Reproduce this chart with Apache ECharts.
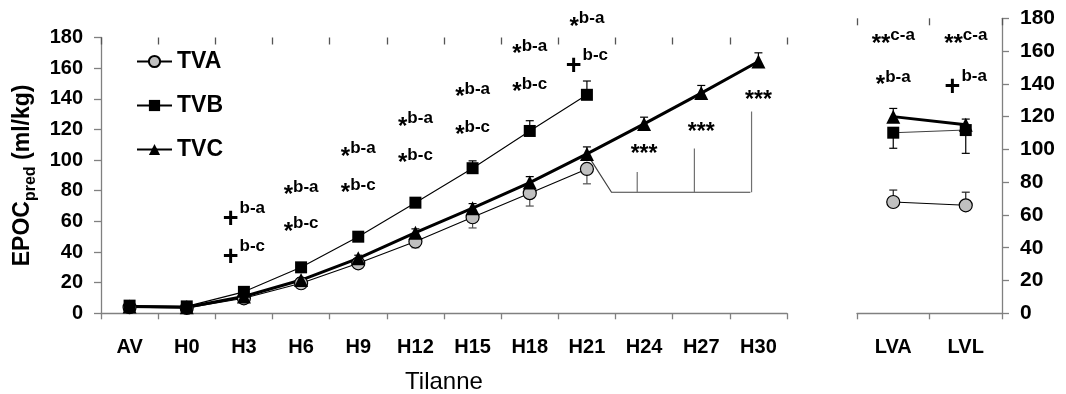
<!DOCTYPE html>
<html>
<head>
<meta charset="utf-8">
<script src="https://cdn.jsdelivr.net/npm/echarts@6/dist/echarts.min.js"></script>
<style>
  html, body { margin: 0; padding: 0; background: #fff; }
  #chart { width: 1066px; height: 394px; }
</style>
</head>
<body>
<div id="chart"></div>
<script>
// Categories
const timePoints = ['AV', 'H0', 'H3', 'H6', 'H9', 'H12', 'H15', 'H18', 'H21', 'H24', 'H27', 'H30'];
const restPoints = ['LVA', 'LVL'];

// EPOC_pred over time (ml/kg)
const tvaTime = [4, 3.5, 9.8, 19.6, 32.6, 46.8, 62.7, 78.4, 94.2, null, null, null];
const tvbTime = [5, 4.5, 14, 30, 50, 72.2, 94.7, 119, 142.6, null, null, null];
const tvcTime = [4.5, 4, 11, 21.7, 35.9, 52.6, 68.6, 85.3, 104, 123.6, 143.7, 164.3];
// SD (TVA drawn downward, TVB / TVC upward)
const tvaTimeSd = [1, 1, 1.5, 2, 3, 4, 7, 8.4, 9.7];
const tvbTimeSd = [1, 1, 1.5, 2, 2.5, 3, 4.8, 6.7, 9];
const tvcTimeSd = [1, 1, 1, 1.5, 2, 2.5, 3, 3.9, 4.6, 4.4, 5, 5.7];

// Running conditions LVA / LVL
const tvaRest = [67.9, 65.9];
const tvbRest = [110.2, 111.8];
const tvcRest = [120, 115];
const tvaRestSd = [7.3, 8];
const tvbRestSd = [9.5, 14.2];
const tvcRestSd = [5, 3.5];

// Axis ticks
const yMin = 0, yMax = 180, yStep = 20;

// Significance labels
const timeNoteCats = ['H3', 'H3', 'H6', 'H6', 'H9', 'H9', 'H12', 'H12', 'H15', 'H15', 'H18', 'H18', 'H21', 'H21', 'H24', 'H27', 'H30'];
const timeNoteVals = [69.4, 44.6, 83.8, 59.8, 108.8, 84.9, 128.4, 104.5, 147.6, 123, 175.7, 150.9, 193.7, 169.2, 106.2, 120.4, 141.5];
const timeNoteText = [
  '{plus|+}{sup|b-a}', '{plus|+}{sup|b-c}',
  '{ast|*}{sup|b-a}', '{ast|*}{sup|b-c}',
  '{ast|*}{sup|b-a}', '{ast|*}{sup|b-c}',
  '{ast|*}{sup|b-a}', '{ast|*}{sup|b-c}',
  '{ast|*}{sup|b-a}', '{ast|*}{sup|b-c}',
  '{ast|*}{sup|b-a}', '{ast|*}{sup|b-c}',
  '{ast|*}{sup|b-a}', '{plus|+}{sup|b-c}',
  '{star|***}', '{star|***}', '{star|***}'
];
const restNoteCats = ['LVA', 'LVA', 'LVL', 'LVL'];
const restNoteVals = [170.8, 145.4, 170.8, 145.4];
const restNoteText = ['{ast|**}{sup|c-a}', '{ast|*}{sup|b-a}', '{ast|**}{sup|c-a}', '{plus|+}{sup|b-a}'];

// Bracket joining TVC H21 to H24..H30
const bracketStart = { cat: 'H21', value: 100.6 };
const bracketBase = 79;
const bracketCats = ['H24', 'H27', 'H30'];
const bracketTops = [92.3, 107.5, 131.7];

const FONT = '"Liberation Sans", Arial, Helvetica, sans-serif';
const AXIS_GREY = '#808080';

function errorBars(values, sds, dir, color, xi, yi) {
  const data = [];
  values.forEach((v, i) => {
    if (v != null && sds[i] != null) data.push([i, v, v + dir * sds[i]]);
  });
  return {
    type: 'custom', xAxisIndex: xi, yAxisIndex: yi, z: 1, silent: true, clip: false,
    data,
    renderItem(params, api) {
      const a = api.coord([api.value(0), api.value(1)]);
      const b = api.coord([api.value(0), api.value(2)]);
      const hw = 4;
      return {
        type: 'group',
        children: [
          { type: 'line', shape: { x1: a[0], y1: a[1], x2: b[0], y2: b[1] }, style: { stroke: color, lineWidth: 1.2 } },
          { type: 'line', shape: { x1: b[0] - hw, y1: b[1], x2: b[0] + hw, y2: b[1] }, style: { stroke: color, lineWidth: 1.2 } }
        ]
      };
    }
  };
}

const noteRich = {
  ast: { fontFamily: FONT, fontSize: 24, fontWeight: 'bold', color: '#000', verticalAlign: 'bottom', padding: [5, 0, 0, 0] },
  plus: { fontFamily: FONT, fontSize: 27, fontWeight: 'bold', color: '#000', verticalAlign: 'bottom', padding: [6, 1, 0, 0] },
  sup: { fontFamily: FONT, fontSize: 17, fontWeight: 'bold', color: '#000', verticalAlign: 'top' },
  star: { fontFamily: FONT, fontSize: 23, fontWeight: 'bold', color: '#000', padding: [10, 0, 0, 0] }
};

// vertical shift per note style so the superscript sits on the anchor value
function noteShift(text) {
  if (text.indexOf('{plus') === 0) return 9.5;
  if (text.indexOf('{ast') === 0) return 8;
  return -1;
}

function notes(cats, vals, texts, xi, yi) {
  return {
    type: 'scatter', xAxisIndex: xi, yAxisIndex: yi, symbolSize: 0, silent: true, clip: false, z: 5,
    data: cats.map((c, i) => ({
      value: [c, vals[i]],
      label: { offset: [0, noteShift(texts[i])], formatter: texts[i] }
    })),
    label: {
      show: true, position: [0, 0], align: 'center', verticalAlign: 'middle',
      color: '#000', fontWeight: 'bold', textBorderWidth: 0, opacity: 1,
      rich: noteRich
    },
    emphasis: { disabled: true }
  };
}

const bracket = {
  type: 'custom', xAxisIndex: 0, yAxisIndex: 0, silent: true, clip: false, z: 1,
  data: [[timePoints.indexOf(bracketStart.cat), bracketStart.value]],
  renderItem(params, api) {
    const bw = api.size([1, 0])[0];
    const s = api.coord([api.value(0), api.value(1)]);
    const knee = api.coord([api.value(0), bracketBase]);
    const last = api.coord([timePoints.indexOf(bracketCats[bracketCats.length - 1]), bracketBase]);
    const x0 = s[0] + 0.06 * bw, xk = knee[0] + 0.43 * bw, xe = last[0] - 0.14 * bw;
    const children = [
      { type: 'polyline', shape: { points: [[x0, s[1]], [xk, knee[1]], [xe, knee[1]]] }, style: { stroke: '#404040', lineWidth: 1.2, fill: null } }
    ];
    bracketCats.forEach((c, i) => {
      const b = api.coord([timePoints.indexOf(c), bracketBase]);
      const t = api.coord([timePoints.indexOf(c), bracketTops[i]]);
      const x = b[0] - 0.12 * bw;
      children.push({ type: 'line', shape: { x1: x, y1: b[1], x2: x, y2: t[1] }, style: { stroke: '#707070', lineWidth: 1.2 } });
    });
    return { type: 'group', children };
  }
};

const seriesStyle = {
  TVA: { symbol: 'circle', symbolSize: 13, itemStyle: { color: '#c0c0c0', borderColor: '#000', borderWidth: 1.2 }, lineStyle: { color: '#000', width: 1.1 } },
  TVB: { symbol: 'rect', symbolSize: 12, itemStyle: { color: '#000' }, lineStyle: { color: '#000', width: 1.1 } },
  TVC: { symbol: 'triangle', symbolSize: 14, itemStyle: { color: '#000' }, lineStyle: { color: '#000', width: 3 } }
};

function lineSeries(name, data, xi, yi, extra) {
  return Object.assign({
    type: 'line', name, data, xAxisIndex: xi, yAxisIndex: yi, z: 3,
    connectNulls: false, showSymbol: true, animation: false
  }, JSON.parse(JSON.stringify(seriesStyle[name])), extra || {});
}

function catAxis(data, gridIndex, inside) {
  return {
    type: 'category', data, gridIndex, boundaryGap: true,
    axisLine: { show: !inside, onZero: true, lineStyle: { color: AXIS_GREY, width: 1.3 } },
    axisTick: { show: true, inside: !!inside, length: inside ? 7 : 6, lineStyle: { color: inside ? '#555' : AXIS_GREY, width: 1.3 } },
    axisLabel: { show: !inside, fontFamily: FONT, fontSize: 20, fontWeight: 'bold', color: '#000', margin: 24 },
    splitLine: { show: false }
  };
}

function valAxis(gridIndex, position, extra) {
  return Object.assign({
    type: 'value', gridIndex, position, min: yMin, max: yMax, interval: yStep,
    axisLine: { show: true, lineStyle: { color: AXIS_GREY, width: 1.3 } },
    axisTick: { show: true, inside: false, length: 7, lineStyle: { color: AXIS_GREY, width: 1.3 } },
    axisLabel: { fontFamily: FONT, fontSize: 20, fontWeight: 'bold', color: '#000', margin: 18 },
    splitLine: { show: false }
  }, extra || {});
}

const option = {
  animation: false,
  backgroundColor: '#fff',
  textStyle: { fontFamily: FONT },
  legend: {
    data: ['TVA', 'TVB', 'TVC'],
    orient: 'vertical', left: 131, top: 45,
    itemWidth: 35, itemHeight: 14, itemGap: 21,
    textStyle: { fontFamily: FONT, fontSize: 23, fontWeight: 'bold', color: '#000' },
    selectedMode: false
  },
  grid: [
    { left: 101, right: 279, top: 37.5, bottom: 80.7, containLabel: false, outerBoundsMode: 'none' },
    { left: 857, right: 64, top: 18.3, bottom: 80.7, containLabel: false, outerBoundsMode: 'none' }
  ],
  xAxis: [
    Object.assign(catAxis(timePoints, 0, false), {
      name: 'Tilanne', nameLocation: 'middle', nameGap: 57,
      nameTextStyle: { fontFamily: FONT, fontSize: 24, color: '#000' }
    }),
    catAxis(timePoints, 0, true),
    catAxis(restPoints, 1, false),
    catAxis(restPoints, 1, true)
  ],
  yAxis: [
    valAxis(0, 'left', {
      name: '{m|EPOC}{s|pred}{m| (ml/kg)}', nameLocation: 'middle', nameRotate: 90, nameGap: 60,
      nameTextStyle: {
        rich: {
          m: { fontFamily: FONT, fontSize: 23, fontWeight: 'bold', color: '#000', verticalAlign: 'bottom' },
          s: { fontFamily: FONT, fontSize: 16, fontWeight: 'bold', color: '#000', verticalAlign: 'bottom', padding: [0, 0, -5, 0] }
        }
      }
    }),
    valAxis(1, 'right', { axisLabel: { fontFamily: FONT, fontSize: 21, fontWeight: 'bold', color: '#000', margin: 18 } })
  ],
  series: [
    bracket,
    errorBars(tvaTime, tvaTimeSd, -1, '#505050', 0, 0),
    errorBars(tvbTime, tvbTimeSd, 1, '#000', 0, 0),
    errorBars(tvcTime, tvcTimeSd, 1, '#000', 0, 0),
    lineSeries('TVA', tvaTime, 0, 0),
    lineSeries('TVB', tvbTime, 0, 0),
    lineSeries('TVC', tvcTime, 0, 0),
    errorBars(tvaRest, tvaRestSd, 1, '#202020', 2, 1),
    errorBars(tvbRest, tvbRestSd, -1, '#000', 2, 1),
    errorBars(tvcRest, tvcRestSd, 1, '#000', 2, 1),
    lineSeries('TVA', tvaRest, 2, 1),
    lineSeries('TVB', tvbRest, 2, 1, { lineStyle: { color: '#404040', width: 1.1 } }),
    lineSeries('TVC', tvcRest, 2, 1),
    notes(timeNoteCats, timeNoteVals, timeNoteText, 0, 0),
    notes(restNoteCats, restNoteVals, restNoteText, 2, 1)
  ]
};

const chart = echarts.init(document.getElementById('chart'), null, { renderer: 'canvas' });
chart.setOption(option);
</script>
</body>
</html>
